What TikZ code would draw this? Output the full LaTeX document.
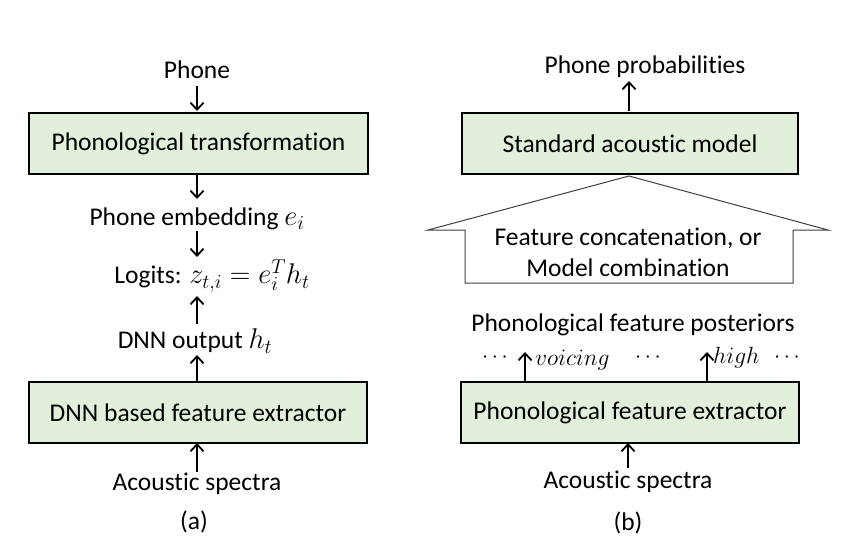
\documentclass[tikz,border=0pt]{standalone}
\usepackage{fix-cm}
\usepackage{fontspec}
\setmainfont[Ligatures={NoCommon}]{Carlito}
\usetikzlibrary{arrows.meta}
\definecolor{boxgreen}{RGB}{226,239,218}
\newcommand{\mybigmath}[1]{{\fontsize{28.5}{30}\selectfont$#1$}}
\begin{document}
\begin{tikzpicture}[x=1pt,y=-1pt,
  every node/.style={font=\fontsize{25.5}{31}\selectfont, inner sep=0pt},
  blk/.style={draw=black, line width=2pt, fill=boxgreen, minimum height=61pt, anchor=north west},
  lbl/.style={anchor=center},
  small/.style={font=\fontsize{22}{26}\selectfont},
  ital/.style={font=\fontsize{23.5}{28}\selectfont},
  arr/.style={line width=1.8pt, -{Straight Barb[length=7pt,width=13pt,line width=1.8pt]}}]
\useasboundingbox (0,0) rectangle (846,554);
% ----- (a) -----
\node[lbl] (phone) at (197,70) {Phone};
\node[blk, minimum width=339pt] (ptrans) at (28,112) {};
\node at (ptrans.center) {Phonological transformation};
\node[lbl] (emb) at (197,219) {Phone embedding \mybigmath{e_i}};
\node[lbl] (logit) at (212,276) {Logits: \mybigmath{z_{t,i}=e_i^{T}h_t}};
\node[lbl] (dnnout) at (195,341) {DNN output \mybigmath{h_t}};
\node[blk, minimum width=338pt] (dnn) at (28,381) {};
\node at (dnn.center) {DNN based feature extractor};
\node[lbl] (aspa) at (197,484) {Acoustic spectra};
\node[lbl] (la) at (194,522) {(a)};
\draw[arr] (197,86) coordinate (p1) -- (197,111) coordinate (p1e);
\draw[arr] (197,173) coordinate (p2) -- (197,199) coordinate (p3);
\draw[arr] (197,231) coordinate (p4) -- (197,257) coordinate (p5);
\draw[arr] (197,324) coordinate (p6) -- (197,296) coordinate (p7);
\draw[arr] (197,381) coordinate (p8s) -- (197,355) coordinate (p8);
\draw[arr] (197,472) coordinate (p9) -- (197,443) coordinate (p9e);
% ----- (b) -----
\node[lbl] (pprob) at (645,67) {Phone probabilities};
\node[blk, minimum width=336pt] (sam) at (461,112) {};
\node at (sam.center) {Standard acoustic model};
\draw[line width=1pt, draw=black!75, fill=white]
  (629,176) coordinate (tip) -- (828,230) -- (793,230) -- (793,283) -- (465,283) -- (465,230) -- (428,230) -- cycle;
\node[lbl, align=center] (comb) at (628,252) {Feature concatenation, or\\Model combination};
\node[lbl] (post) at (633,325) {Phonological feature posteriors};
\node[blk, minimum width=338pt] (pfe) at (460,381) {};
\node at (pfe.center) {Phonological feature extractor};
\node[lbl] (aspb) at (628,482) {Acoustic spectra};
\node[lbl] (lb) at (628,523) {(b)};
\node[lbl,small] (d1) at (495,358) {$\cdots$};
\node[anchor=west,ital] (voicing) at (535,360) {$voicing$};
\node[lbl,small] (d2) at (648,358) {$\cdots$};
\node[anchor=west,ital] (high) at (713,358) {$high$};
\node[lbl,small] (d3) at (787,358) {$\cdots$};
\draw[arr] (629,111) coordinate (q0) -- (629,81) coordinate (q1);
\draw[arr] (525,381) coordinate (q2) -- (525,352) coordinate (q3);
\draw[arr] (707,381) coordinate (q4) -- (707,352) coordinate (q5);
\draw[arr] (628,468) coordinate (q6) -- (628,443) coordinate (q7);
\end{tikzpicture}
\end{document}
